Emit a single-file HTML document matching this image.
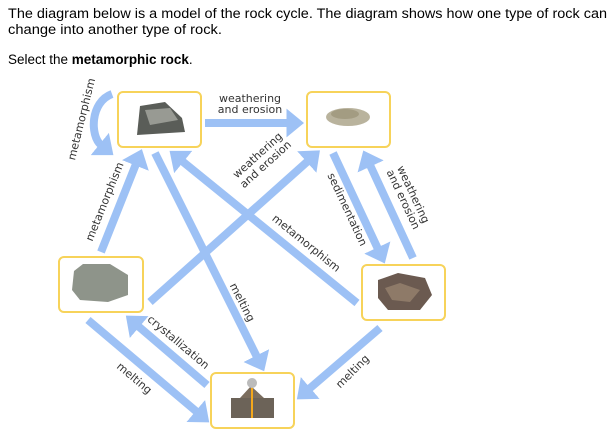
<!DOCTYPE html>
<html><head><meta charset="utf-8"><style>
html,body{margin:0;padding:0;background:#fff;width:613px;height:437px;overflow:hidden}
svg{display:block}
.t{font-family:"Liberation Sans",sans-serif;font-size:13.5px;fill:#000}
.l{font-family:"DejaVu Sans","Liberation Sans",sans-serif;font-size:11px;fill:#333}
</style></head><body>
<svg width="613" height="437" viewBox="0 0 613 437" xmlns="http://www.w3.org/2000/svg">
<defs>
<marker id="a" markerWidth="3" markerHeight="3.6" refX="0.2" refY="1.8" orient="auto" markerUnits="strokeWidth">
<path d="M0,0 L2.2,1.8 L0,3.6 Z" fill="#9dc1f5"/></marker>
</defs>
<text class="t" x="8" y="18" textLength="599" lengthAdjust="spacingAndGlyphs">The diagram below is a model of the rock cycle. The diagram shows how one type of rock can</text>
<text class="t" x="8" y="34" textLength="214" lengthAdjust="spacingAndGlyphs">change into another type of rock.</text>
<text class="t" x="8" y="64">Select the <tspan font-weight="bold">metamorphic rock</tspan>.</text>

<g stroke="#9dc1f5" stroke-width="8" fill="none" marker-end="url(#a)">
<line x1="205" y1="123" x2="288" y2="123"/>
<path d="M112,94 C90,102 90,136 101,145"/>
<line x1="101" y1="252" x2="136" y2="164"/>
<line x1="155" y1="153" x2="257" y2="357"/>
<line x1="357" y1="303" x2="182" y2="161"/>
<line x1="150" y1="302" x2="308" y2="161"/>
<line x1="333" y1="153" x2="378" y2="249"/>
<line x1="413" y1="258" x2="370" y2="165"/>
<line x1="88" y1="320" x2="197" y2="412"/>
<line x1="207" y1="385" x2="138" y2="326"/>
<line x1="380" y1="328" x2="309" y2="389"/>
</g>

<g fill="#fff" stroke="#f7d35a" stroke-width="2">
<rect x="118" y="92" width="83" height="55" rx="5"/>
<rect x="307" y="92" width="83" height="55" rx="5"/>
<rect x="362" y="265" width="83" height="55" rx="5"/>
<rect x="59" y="257" width="84" height="55" rx="5"/>
<rect x="211" y="373" width="83" height="55" rx="5"/>
</g>
<path d="M140,106 L165,102 L182,118 L185,132 L137,135 Z" fill="#5a5d58"/>
<path d="M145,110 L170,108 L178,120 L150,125 Z" fill="#a7aaa2" opacity=".8"/>
<ellipse cx="348" cy="117" rx="22" ry="9" fill="#b9b39d"/>
<ellipse cx="345" cy="114" rx="14" ry="5" fill="#a39c82"/>
<path d="M378,280 L398,273 L425,278 L432,295 L420,310 L388,310 L378,298 Z" fill="#6b5a50"/>
<path d="M385,288 L400,283 L420,290 L410,302 L392,300 Z" fill="#8e7a68"/>
<path d="M74,271 L83,264 L110,264 L128,275 L128,295 L108,302 L80,300 L72,290 Z" fill="#8e948a"/>
<rect x="231" y="398" width="43" height="20" fill="#6c6358"/>
<path d="M240,398 L251,386 L264,398 Z" fill="#7b6d5e"/>
<line x1="252" y1="386" x2="252" y2="418" stroke="#f4a81c" stroke-width="2"/>
<circle cx="252" cy="383" r="5" fill="#bbb"/>

<g class="l">
<text x="250" y="102" text-anchor="middle">weathering</text>
<text x="250" y="113" text-anchor="middle">and erosion</text>
<text transform="translate(85,120) rotate(-76)" text-anchor="middle">metamorphism</text>
<text transform="translate(108,203) rotate(-68)" text-anchor="middle">metamorphism</text>
<text transform="translate(260,158) rotate(-42)" text-anchor="middle">weathering</text>
<text transform="translate(268,167) rotate(-42)" text-anchor="middle">and erosion</text>
<text transform="translate(304,246) rotate(39)" text-anchor="middle">metamorphism</text>
<text transform="translate(344,211) rotate(65)" text-anchor="middle">sedimentation</text>
<text transform="translate(410,196) rotate(65)" text-anchor="middle">weathering</text>
<text transform="translate(400,201) rotate(65)" text-anchor="middle">and erosion</text>
<text transform="translate(239,304) rotate(63)" text-anchor="middle">melting</text>
<text transform="translate(176,345) rotate(40)" text-anchor="middle">crystallization</text>
<text transform="translate(132,381) rotate(40)" text-anchor="middle">melting</text>
<text transform="translate(355,374) rotate(-45)" text-anchor="middle">melting</text>
</g>
</svg>
</body></html>
